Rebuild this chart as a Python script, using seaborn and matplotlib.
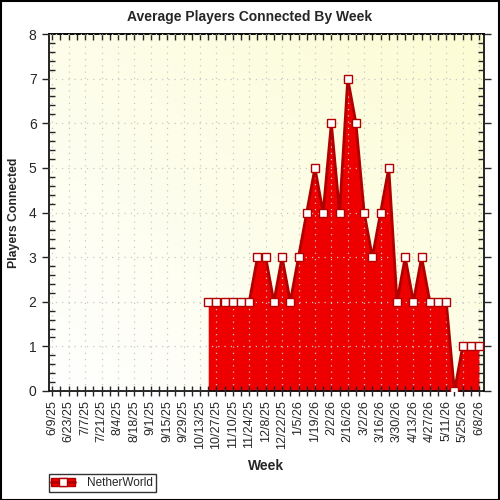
import numpy as np
import pandas as pd
import matplotlib
matplotlib.use("Agg")
import matplotlib.pyplot as plt
import seaborn as sns
from matplotlib.ticker import MultipleLocator, NullFormatter
from matplotlib.patches import Rectangle
from matplotlib.lines import Line2D
from matplotlib.legend_handler import HandlerTuple

weeks = ["6/9/25","6/16/25","6/23/25","6/30/25","7/7/25","7/14/25","7/21/25","7/28/25",
         "8/4/25","8/11/25","8/18/25","8/25/25","9/1/25","9/8/25","9/15/25","9/22/25",
         "9/29/25","10/6/25","10/13/25","10/20/25","10/27/25","11/3/25","11/10/25","11/17/25",
         "11/24/25","12/1/25","12/8/25","12/15/25","12/22/25","12/29/25","1/5/26","1/12/26",
         "1/19/26","1/26/26","2/2/26","2/9/26","2/16/26","2/23/26","3/2/26","3/9/26",
         "3/16/26","3/23/26","3/30/26","4/6/26","4/13/26","4/20/26","4/27/26","5/4/26",
         "5/11/26","5/18/26","5/25/26","6/1/26","6/8/26"]
players = [np.nan]*19 + [2,2,2,2,2,2,3,3,2,3,2,3,4,5,4,6,4,7,6,4,3,4,5,2,3,2,3,2,2,2,0,1,1,1]
series_name = "NetherWorld"

df = pd.DataFrame({"idx": np.arange(len(weeks)), "week": weeks, "players": players})

sns.set_style("white")
plt.rcParams['font.family'] = ['Liberation Sans', 'DejaVu Sans']

fig = plt.figure(figsize=(5, 5), dpi=100)
ax = fig.add_axes([0.098, 0.218, 0.87, 0.714])

# gradient background
gx = np.linspace(0, 1, 200)
gy = np.linspace(0, 1, 200)
GX, GY = np.meshgrid(gx, gy)
t = np.clip((GX + GY) / 2, 0, 1)
c0 = np.array([1.0, 1.0, 1.0])
c1 = np.array([252/255, 252/255, 212/255])
img = c0[None, None, :] * (1 - t[..., None]) + c1[None, None, :] * t[..., None]
ax.imshow(img, extent=[0, 1, 0, 1], transform=ax.transAxes, origin='lower',
          aspect='auto', zorder=0)

d = df.dropna()
ax.fill_between(d["idx"], 0, d["players"], color="#EE0000", linewidth=0, zorder=2)
sns.lineplot(data=d, x="idx", y="players", ax=ax, color="#B00000", linewidth=2.0,
             marker="s", markersize=6, markerfacecolor="white",
             markeredgecolor="#B00000", markeredgewidth=1.0, zorder=3, legend=False)

ax.set_xlim(-0.4, 52.6)
ax.set_ylim(0, 8)
ax.set_xticks(np.arange(0, len(weeks), 2))
ax.set_xticklabels(weeks[::2], rotation=90, fontsize=9)
ax.xaxis.set_minor_locator(MultipleLocator(1))
ax.yaxis.set_major_locator(MultipleLocator(1))
ax.yaxis.set_minor_locator(MultipleLocator(0.2))
ax.tick_params(axis='y', which='major', direction='out', length=5, width=1, labelsize=10,
               left=True, right=True, pad=4)
ax.tick_params(axis='y', which='minor', direction='in', length=4, width=1, left=True, right=True)
ax.tick_params(axis='x', which='both', direction='inout', length=7, width=1, bottom=True,
               top=False, labelsize=9, pad=3)
for s in ax.spines.values():
    s.set_color("black")
    s.set_linewidth(1.2)
ax.grid(True, which='major', color='#c8c8c8', linestyle=(0, (1, 4)), linewidth=0.9, zorder=1)
ax.set_axisbelow(False)
for gl in ax.get_xgridlines() + ax.get_ygridlines():
    gl.set_zorder(1)

# top inward ticks
sec = ax.secondary_xaxis('top')
sec.set_xticks(np.arange(0, len(weeks), 1))
sec.xaxis.set_major_formatter(NullFormatter())
sec.tick_params(axis='x', direction='in', length=4, width=1)
sec.spines['top'].set_linewidth(1.2)

fig.text(0.5, 0.966, "Average Players Connected By Week", fontsize=10, fontweight='bold',
         ha='center', va='center')
ax.set_xlabel("Week", fontsize=10, fontweight='bold', labelpad=7)
ax.set_ylabel("Players Connected", fontsize=8.8, fontweight='bold')
ax.yaxis.set_label_coords(-0.067, 0.5)

# legend
handle = (Rectangle((0, 0), 1, 1, facecolor="#EE0000", edgecolor="#B00000"),
          Line2D([], [], color="#B00000", marker="s", markerfacecolor="white",
                 markeredgecolor="#B00000", linewidth=2))
leg = fig.legend([handle], [series_name], loc='lower left', bbox_to_anchor=(0.097, 0.016),
                 handler_map={tuple: HandlerTuple(ndivide=1, pad=0)},
                 fontsize=8.5, frameon=True, fancybox=False, handlelength=2.0,
                 borderpad=0.25, handletextpad=1.0, borderaxespad=0)
leg.get_frame().set_edgecolor("black")
leg.get_frame().set_linewidth(1)

fig.patches.append(Rectangle((0.001, 0.001), 0.997, 0.997, transform=fig.transFigure,
                             fill=False, edgecolor='black', linewidth=1.5))

fig.savefig("out.png", dpi=100)
